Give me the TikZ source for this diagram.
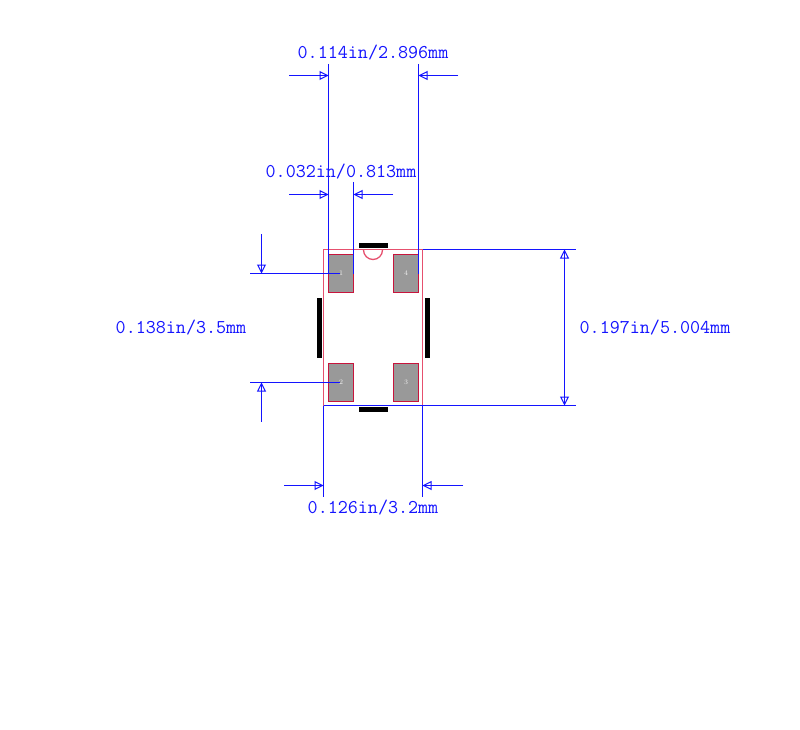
\documentclass[tikz,border=0pt]{standalone}
\usepackage{fontspec}
\usetikzlibrary{arrows.meta}
\definecolor{dimblue}{RGB}{20,20,255}
\definecolor{padred}{RGB}{200,20,60}
\definecolor{outred}{RGB}{230,80,110}
\definecolor{padgrey}{RGB}{153,153,153}
\tikzset{
  dimline/.style={draw=dimblue,line width=1pt},
  dimarrow/.style={draw=dimblue,line width=1pt,-{Triangle[open,length=9pt,width=9pt]}},
  dimtext/.style={text=dimblue,inner sep=0pt,font=\fontsize{19.5}{20}\selectfont\ttfamily},
  padbox/.style={draw=padred,fill=padgrey,line width=1.3pt,minimum width=25pt,minimum height=38pt,inner sep=0pt,outer sep=0pt,text=white!85!padgrey,font=\fontsize{7}{8}\selectfont},
  outline/.style={draw=outred,line width=1.3pt},
  silk/.style={fill=black,draw=none}
}
\newcommand{\dimtip}[2]{\draw[dimarrow] (#1) -- (#2); \draw[dimline] (#1) -- (#2);}
\begin{document}
\begin{tikzpicture}[x=1pt,y=-1pt]
\useasboundingbox (0,0) rectangle (800,730);
% package
\node[padbox] (p1) at (341,273.5) {1};
\node[padbox] (p4) at (406,273.5) {4};
\node[padbox] (p2) at (341,382.5) {2};
\node[padbox] (p3) at (406,382.5) {3};
\draw[outline] (323.5,249.5) rectangle (422.5,405.5);
\draw[outline] (363.5,250) arc[start angle=180,end angle=360,x radius=9.5pt,y radius=9.5pt];
\fill[silk] (359,243) rectangle (388,248);
\fill[silk] (359,407) rectangle (388,412);
\fill[silk] (317,298) rectangle (322,358);
\fill[silk] (424.5,298) rectangle (429.5,358);
% coordinates
\coordinate (a1) at (328.5,64); \coordinate (a2) at (328.5,273.5);
\coordinate (b1) at (418.5,64); \coordinate (b2) at (418.5,273.5);
\coordinate (c1) at (353.5,182); \coordinate (c2) at (353.5,273.5);
\coordinate (h1s) at (250,273.5); \coordinate (h1e) at (340,273.5);
\coordinate (h2s) at (250,382.5); \coordinate (h2e) at (340,382.5);
\coordinate (r1s) at (422.5,249.5); \coordinate (r1e) at (576,249.5);
\coordinate (r2s) at (323.5,405.5); \coordinate (r2e) at (576,405.5);
\coordinate (l1e) at (323.5,497); \coordinate (l2s) at (422.5,405.5); \coordinate (l2e) at (422.5,497);
% extension lines
\draw[dimline] (a1) -- (a2);
\draw[dimline] (b1) -- (b2);
\draw[dimline] (c1) -- (c2);
\draw[dimline] (h1s) -- (h1e);
\draw[dimline] (h2s) -- (h2e);
\draw[dimline] (r1s) -- (r1e);
\draw[dimline] (r2s) -- (r2e);
\draw[dimline] (r2s) -- (l1e);
\draw[dimline] (l2s) -- (l2e);
% arrows
\coordinate (t1) at (289,75.5); \coordinate (t1e) at (328.5,75.5);
\coordinate (t2) at (458,75.5); \coordinate (t2e) at (418.5,75.5);
\coordinate (m1) at (289,194.5); \coordinate (m1e) at (328.5,194.5);
\coordinate (m2) at (393,194.5); \coordinate (m2e) at (353.5,194.5);
\coordinate (g1) at (284,485.5); \coordinate (g1e) at (323.5,485.5);
\coordinate (g2) at (463,485.5); \coordinate (g2e) at (422.5,485.5);
\coordinate (v1) at (261.5,234); \coordinate (v1e) at (261.5,273.5);
\coordinate (v2) at (261.5,421.5); \coordinate (v2e) at (261.5,382.5);
\coordinate (w1) at (564.5,327.5); \coordinate (w1e) at (564.5,249.5); \coordinate (w2e) at (564.5,405.5);
\dimtip{t1}{t1e} \dimtip{t2}{t2e}
\dimtip{m1}{m1e} \dimtip{m2}{m2e}
\dimtip{g1}{g1e} \dimtip{g2}{g2e}
\dimtip{v1}{v1e} \dimtip{v2}{v2e}
\dimtip{w1}{w1e} \dimtip{w1}{w2e}
% labels
\node[dimtext] (la) at (373,53) {0.114in/2.896mm};
\node[dimtext] (lb) at (341,172) {0.032in/0.813mm};
\node[dimtext] (lc) at (181,328) {0.138in/3.5mm};
\node[dimtext] (ld) at (655,328) {0.197in/5.004mm};
\node[dimtext] (le) at (373,508) {0.126in/3.2mm};
\end{tikzpicture}
\end{document}
